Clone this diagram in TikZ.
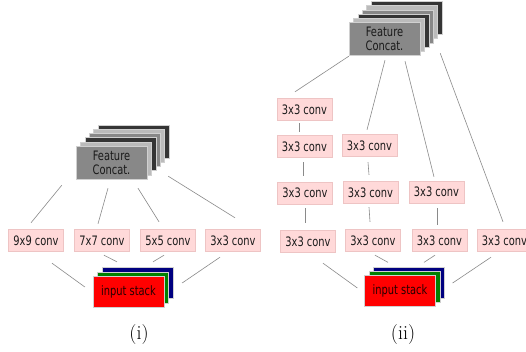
\documentclass[tikz,border=0pt]{standalone}
\usepackage{fontspec}
\newfontfamily\cf[FakeStretch=0.76]{DejaVu Sans}
\usetikzlibrary{calc}
\definecolor{convpink}{HTML}{FFD9D9}
\definecolor{convedge}{HTML}{EEC4C4}
\definecolor{linegray}{HTML}{8A8A8A}
\definecolor{textdark}{HTML}{1A1A1A}
\definecolor{layeredge}{HTML}{D0D0D0}
\definecolor{ldark}{HTML}{353535}
\definecolor{llight}{HTML}{BBBBBB}
\definecolor{lmid}{HTML}{888888}
\definecolor{inblue}{HTML}{000080}
\definecolor{ingreen}{HTML}{008000}
\definecolor{inred}{HTML}{FF0000}
\begin{document}
\begin{tikzpicture}[x=1pt,y=-1pt,
  conv/.style={fill=convpink, draw=convedge, line width=0.4pt, minimum width=55pt,
    minimum height=22pt, inner sep=0pt, font=\cf\fontsize{13}{15}\selectfont, text=textdark},
  link/.style={draw=linegray, line width=0.6pt},
  featlayer/.style={minimum width=71pt, minimum height=33pt, inner sep=0pt,
    draw=layeredge, line width=0.4pt, align=center,
    font=\cf\fontsize{13}{14}\selectfont, text=textdark},
  inlayer/.style={minimum width=71pt, minimum height=31pt, inner sep=0pt,
    draw=layeredge, line width=0.3pt, font=\cf\fontsize{13}{15}\selectfont, text=black!85!red},
  caption/.style={font=\fontsize{20}{24}\selectfont, inner sep=0pt}]
\useasboundingbox (0,0) rectangle (526,352);
\fill[white] (0,0) rectangle (526,352);

% ---------- (i) ----------
% feature stack
\foreach \k/\c in {5/ldark,4/llight,3/lmid,2/ldark,1/llight}{
  \node[featlayer, fill=\c] (fI\k) at ({111.5+4.4*\k},{162.5-4.2*\k}) {};
}
\node[featlayer, fill=lmid] (fI0) at (111.5,162.5) {Feature\\Concat.};
% input stack
\foreach \k/\c in {2/inblue,1/ingreen}{
  \node[inlayer, fill=\c] (iI\k) at ({128.5+4.5*\k},{291.5-4.3*\k}) {};
}
\node[inlayer, fill=inred] (iI0) at (128.5,291.5) {input stack};
% convs
\node[conv] (c9) at (36,240.5) {9x9 conv};
\node[conv] (c7) at (102,240.5) {7x7 conv};
\node[conv] (c5) at (168,240.5) {5x5 conv};
\node[conv] (c3) at (233,240.5) {3x3 conv};
% links
\draw[link] ($(fI0.south west)+(-14,6)$) -- ($(c9.north)+(-5,-6.5)$);
\draw[link] ($(fI0.south)+(-3.5,9)$) -- ($(c7.north)+(-4,-5.5)$);
\draw[link] ($(fI0.south)+(26.5,9)$) -- ($(c5.north)+(-9,-7.5)$);
\draw[link] ($(fI5.south east)+(-1,18)$) -- ($(c3.north)+(2,-11.5)$);
\draw[link] ($(c9.south)+(16,11.5)$) -- ($(iI0.west)+(-8,-4.5)$);
\draw[link] ($(c7.south)+(2,3.5)$) -- ($(iI0.north)+(-11.5,-14)$);
\draw[link] ($(c5.south)+(-4,3.5)$) -- ($(iI0.north)+(24.5,-14)$);
\draw[link] ($(c3.south)+(-13,5.5)$) -- ($(iI0.east)+(18,-8.5)$);
\node[caption] (capI) at (139,335) {(i)};

% ---------- (ii) ----------
\foreach \k/\c in {5/ldark,4/llight,3/lmid,2/ldark,1/llight}{
  \node[featlayer, fill=\c] (fII\k) at ({384.5+4.4*\k},{39-4.2*\k}) {};
}
\node[featlayer, fill=lmid] (fII0) at (384.5,39) {Feature\\Concat.};
\foreach \k/\c in {2/inblue,1/ingreen}{
  \node[inlayer, fill=\c] (iII\k) at ({400+4.5*\k},{291-4.3*\k}) {};
}
\node[inlayer, fill=inred] (iII0) at (400,291) {input stack};
% convs
\node[conv] (a1) at (304.5,109.5) {3x3 conv};
\node[conv] (b1) at (304.5,146.5) {3x3 conv};
\node[conv] (cc1) at (305,193) {3x3 conv};
\node[conv] (d1) at (308,241.5) {3x3 conv};
\node[conv] (b2) at (369.5,145.5) {3x3 conv};
\node[conv] (cc2) at (370.5,192.5) {3x3 conv};
\node[conv] (d2) at (373,240.5) {3x3 conv};
\node[conv] (cc3) at (436.5,192) {3x3 conv};
\node[conv] (d3) at (439.5,240.5) {3x3 conv};
\node[conv] (d4) at (504.5,240.5) {3x3 conv};
% links from feature
\draw[link] ($(fII0.south west)+(0,0.5)$) -- ($(a1.north)+(-9.5,-6.5)$);
\draw[link] ($(fII0.south)+(0.5,4.5)$) -- ($(b2.north)+(-2.5,-4.5)$);
\draw[link] ($(fII0.south)+(20.5,5.5)$) -- ($(cc3.north)+(-2.5,-4)$);
\draw[link] ($(fII5.south east)+(-2,18.5)$) -- ($(d4.north)+(-1.5,-7.5)$);
% column links
\draw[link] ($(a1.south)+(-5.5,2.5)$) -- ($(b1.north)+(-5.5,-3.5)$);
\draw[link] ($(b1.south)+(-1.5,4.5)$) -- ($(cc1.north)+(-2,-6)$);
\draw[link] ($(b2.south)+(-1.5,5.5)$) -- ($(cc2.north)+(-1.5,-6.5)$);
\draw[link] ($(cc1.south)+(0,4)$) -- ($(d1.north)+(-3,-7.5)$);
\draw[link] ($(cc2.south)+(-1.5,3.5)$) -- ($(d2.north)+(-3,-7.5)$);
\draw[link] ($(cc3.south)+(0.5,5)$) -- ($(d3.north)+(-2.5,-4.5)$);
% links to input
\draw[link] ($(d1.south)+(15,10.5)$) -- ($(iII0.west)+(-7,-3)$);
\draw[link] ($(d2.south)+(2,3.5)$) -- ($(iII0.north)+(-12,-13)$);
\draw[link] ($(d3.south)+(-4.5,3.5)$) -- ($(iII0.north)+(24,-13)$);
\draw[link] ($(d4.south)+(-13.5,5.5)$) -- ($(iII0.east)+(17,-8)$);
\node[caption] (capII) at (403,335) {(ii)};
\end{tikzpicture}
\end{document}
